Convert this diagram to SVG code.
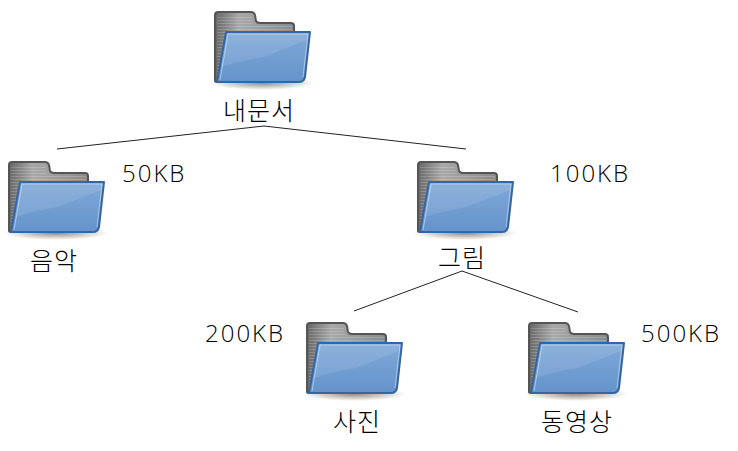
<svg xmlns="http://www.w3.org/2000/svg" xmlns:xlink="http://www.w3.org/1999/xlink" width="738" height="451" viewBox="0 0 738 451">
<style>
text{font-family:"Noto Sans CJK KR","DejaVu Sans",sans-serif;font-weight:300;fill:#000;text-anchor:middle}
.k{font-size:25px;font-weight:200;letter-spacing:1px}
.s{font-family:"Open Sans","DejaVu Sans",sans-serif;font-weight:300;font-size:24px;letter-spacing:2px;text-anchor:start}
.c{fill:none;stroke:#222;stroke-width:1}
</style>
<defs>
<linearGradient id="bk" x1="0" y1="0" x2="1" y2="0"><stop offset="0" stop-color="#666"/><stop offset=".3" stop-color="#a8a8a8"/><stop offset="1" stop-color="#8a8a8a"/></linearGradient>
<linearGradient id="fr" x1="0" y1="0" x2="0" y2="1"><stop offset="0" stop-color="#80a9d8"/><stop offset="1" stop-color="#6493cb"/></linearGradient>
<radialGradient id="sh"><stop offset="0" stop-color="#000" stop-opacity=".45"/><stop offset="1" stop-color="#000" stop-opacity="0"/></radialGradient>
<pattern id="st" width="4" height="3" patternUnits="userSpaceOnUse"><rect width="4" height="1" fill="#fff" fill-opacity=".18"/></pattern>
<g id="folder">
<ellipse cx="48" cy="72" rx="52" ry="7" fill="url(#sh)"/>
<path d="M1 70V4Q1 1 4 1H37Q40 1 41 4L42 10Q43 12 46 12H77Q80 12 80 15V30H14L4 71Q1 71 1 70Z" fill="url(#bk)" stroke="#555" stroke-width="2"/>
<path d="M3 4H38V12L42 14H78V28H14L6 68H3Z" fill="url(#st)"/>
<path d="M12 21H96L91 66Q90 71 85 71H3Z" fill="url(#fr)" stroke="#3465a4" stroke-width="2" stroke-linejoin="round"/>
<path d="M14 23H94L93 29Q70 38 50 46Q25 50 8 56Z" fill="#fff" fill-opacity=".1"/>
<path d="M14 23H94L89 66" fill="none" stroke="#fff" stroke-opacity=".4" stroke-width="1"/>
<path d="M14 23L6 69" fill="none" stroke="#fff" stroke-opacity=".45" stroke-width="1"/>
</g>
</defs>
<rect width="738" height="451" fill="#fff"/>
<g id="connectors">
<path class="c" d="M57 149L264 126L466 149"/>
<path class="c" d="M354 311L462 271L578 312"/>
</g>
<g id="node-doc"><use xlink:href="#folder" href="#folder" x="214" y="11"/><text class="k" x="259" y="120">내문서</text></g>
<g id="node-music"><use xlink:href="#folder" href="#folder" x="8" y="161"/><text class="k" x="54" y="270">음악</text><text class="s" x="122" y="182">50KB</text></g>
<g id="node-pic"><use xlink:href="#folder" href="#folder" x="417" y="161"/><text class="k" x="462" y="267">그림</text><text class="s" x="550" y="182">100KB</text></g>
<g id="node-photo"><use xlink:href="#folder" href="#folder" x="306" y="322"/><text class="k" x="357" y="431">사진</text><text class="s" x="205" y="342">200KB</text></g>
<g id="node-video"><use xlink:href="#folder" href="#folder" x="528" y="322"/><text class="k" x="577" y="431">동영상</text><text class="s" x="641" y="342">500KB</text></g>
</svg>
